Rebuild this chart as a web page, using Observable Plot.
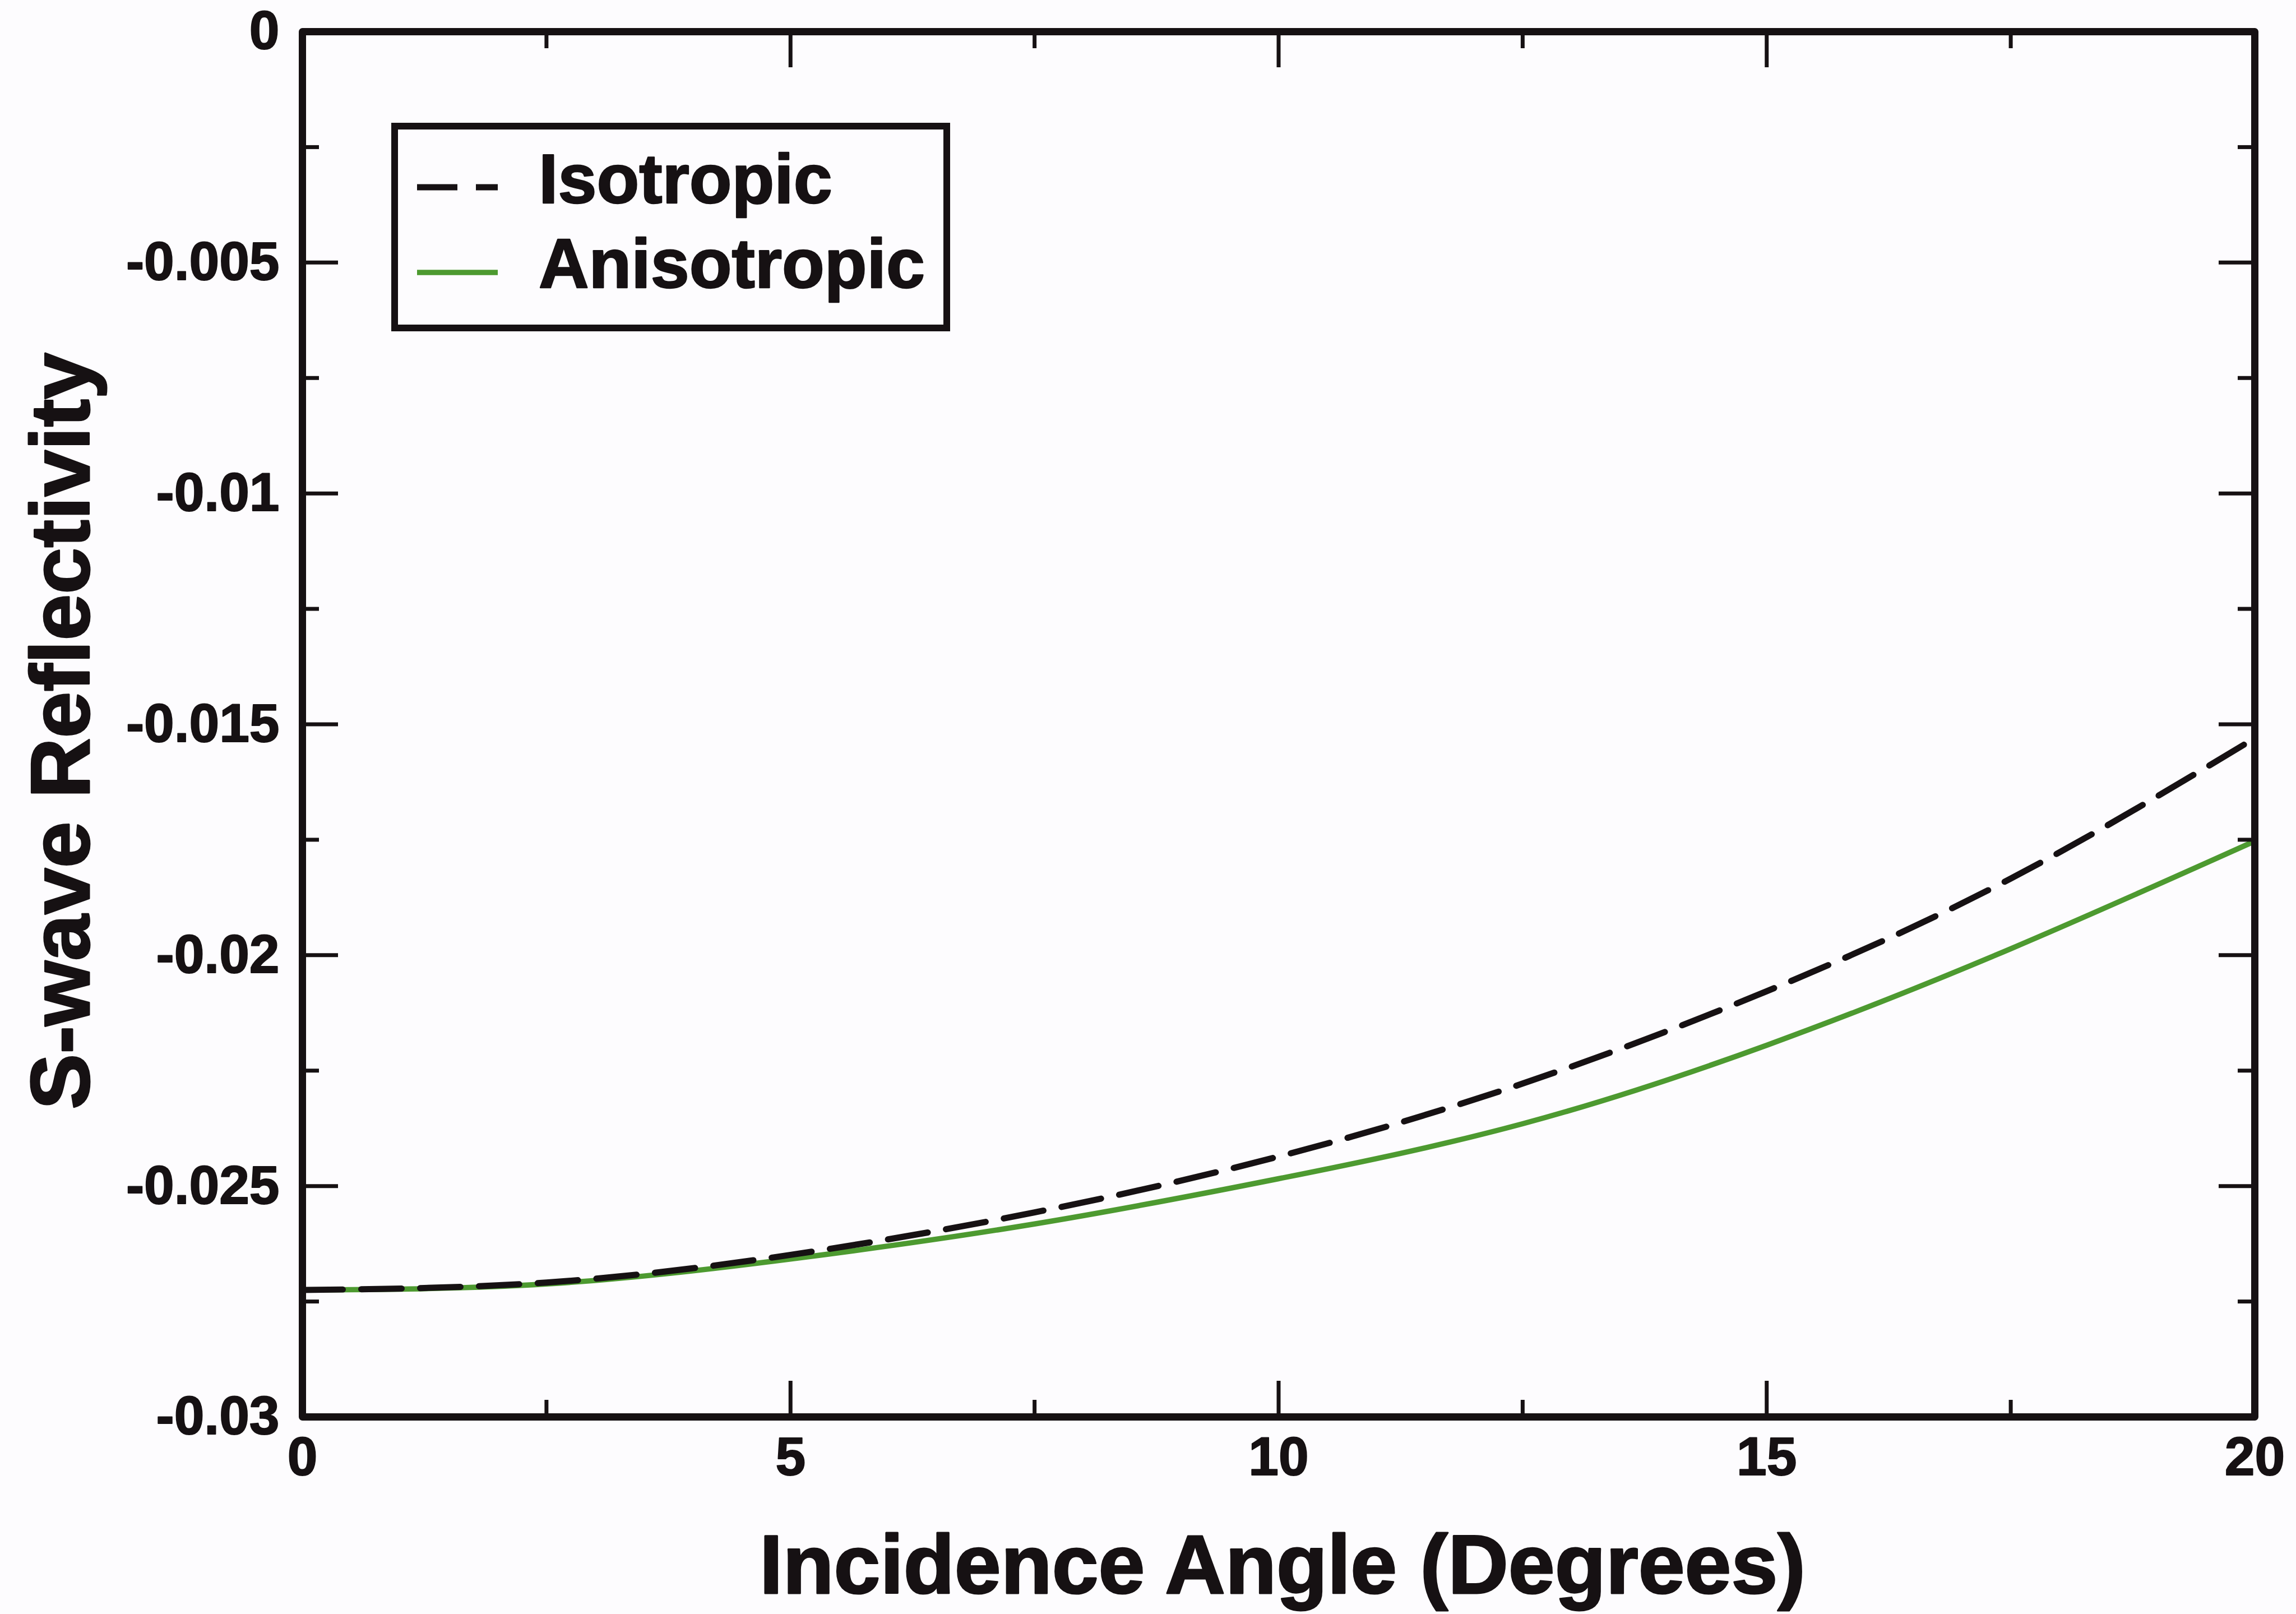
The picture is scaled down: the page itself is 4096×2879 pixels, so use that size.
<!DOCTYPE html>
<html>
<head>
<meta charset="utf-8">
<script src="https://cdn.jsdelivr.net/npm/d3@7"></script>
<script src="https://cdn.jsdelivr.net/npm/@observablehq/plot@0.6"></script>
<style>
  html, body { margin: 0; padding: 0; background: #fdfcfe; }
  #chart svg { display: block; }
</style>
</head>
<body>
<div id="chart"></div>
<script>
// Incidence angle (degrees) and S-wave reflectivity for both media
const angles = [0, 2.5, 5, 7.5, 10, 12.5, 15, 17.5, 20];
const isotropic = [-0.02725, -0.02709, -0.02649, -0.02557, -0.02436, -0.02278, -0.02078, -0.01834, -0.01530];
const anisotropic = [-0.02725, -0.02712, -0.02658, -0.02582, -0.02484, -0.02365, -0.02195, -0.01986, -0.01753];
const seriesNames = ["Isotropic", "Anisotropic"];

// Axis ticks and titles
const xTicks = [0, 5, 10, 15, 20];
const xMinorTicks = [2.5, 7.5, 12.5, 17.5];
const yTicks = [0, -0.005, -0.01, -0.015, -0.02, -0.025, -0.03];
const yMinorTicks = [-0.0025, -0.0075, -0.0125, -0.0175, -0.0225, -0.0275];
const xTitle = "Incidence Angle (Degrees)";
const yTitle = "S-wave Reflectivity";

const W = 4096, H = 2879;
const mL = 539, mR = 74, mT = 56, mB = 352;
const frameW = W - mL - mR, frameH = H - mT - mB;
const ink = "#161113";
const green = "#4d9a30";
const font = "'Liberation Sans', Arial, Helvetica, sans-serif";
const dash = "72,33";
const isoWidth = 11, anisoWidth = 9.5;

// heavier lettering: fill plus a thin outline of the same colour
const heavy = w => ({stroke: ink, strokeWidth: w, strokeLinejoin: "round"});

const rows = [];
angles.forEach((a, i) => {
  rows.push({angle: a, value: isotropic[i], series: seriesNames[0]});
  rows.push({angle: a, value: anisotropic[i], series: seriesNames[1]});
});

const majorLen = 64, minorLen = 30, tickW = 7;

const chart = Plot.plot({
  width: W,
  height: H,
  marginLeft: mL,
  marginRight: mR,
  marginTop: mT,
  marginBottom: mB,
  style: {background: "transparent", fontFamily: font},
  x: {domain: [0, 20]},
  y: {domain: [-0.03, 0]},
  marks: [
    // curves
    Plot.line(rows.filter(d => d.series === seriesNames[1]), {
      x: "angle", y: "value", curve: "natural",
      stroke: green, strokeWidth: anisoWidth
    }),
    Plot.line(rows.filter(d => d.series === seriesNames[0]), {
      x: "angle", y: "value", curve: "natural",
      stroke: ink, strokeWidth: isoWidth, strokeDasharray: dash
    }),
    // inward ticks on all four sides
    Plot.tickX(xTicks, {x: d => d, insetTop: frameH - majorLen, stroke: ink, strokeWidth: tickW}),
    Plot.tickX(xTicks, {x: d => d, insetBottom: frameH - majorLen, stroke: ink, strokeWidth: tickW}),
    Plot.tickX(xMinorTicks, {x: d => d, insetTop: frameH - minorLen, stroke: ink, strokeWidth: tickW}),
    Plot.tickX(xMinorTicks, {x: d => d, insetBottom: frameH - minorLen, stroke: ink, strokeWidth: tickW}),
    Plot.tickY(yTicks, {y: d => d, insetRight: frameW - majorLen, stroke: ink, strokeWidth: tickW}),
    Plot.tickY(yTicks, {y: d => d, insetLeft: frameW - majorLen, stroke: ink, strokeWidth: tickW}),
    Plot.tickY(yMinorTicks, {y: d => d, insetRight: frameW - minorLen, stroke: ink, strokeWidth: tickW}),
    Plot.tickY(yMinorTicks, {y: d => d, insetLeft: frameW - minorLen, stroke: ink, strokeWidth: tickW}),
    // tick labels
    Plot.axisX(xTicks, {
      anchor: "bottom", tickSize: 0, tickPadding: 35, label: null,
      fontSize: 96.5, fontWeight: "bold", fontFamily: font, fill: ink,
      tickFormat: d => String(d)
    }),
    Plot.axisY(yTicks, {
      anchor: "left", tickSize: 0, tickPadding: 41, label: null,
      fontSize: 96.5, fontWeight: "bold", fontFamily: font, fill: ink,
      tickFormat: d => String(d)
    }),
    // axis titles
    Plot.text([xTitle], {
      text: d => d, frameAnchor: "bottom", dx: 7, dy: 314, lineAnchor: "bottom",
      fontSize: 149, fontWeight: "bold", fontFamily: font, fill: ink, ...heavy(3)
    }),
    Plot.text([yTitle], {
      text: d => d, frameAnchor: "left", dx: 158 - mL, dy: 12, rotate: -90,
      textAnchor: "middle", lineAnchor: "bottom",
      fontSize: 149, fontWeight: "bold", fontFamily: font, fill: ink, ...heavy(3)
    }),
    Plot.frame({stroke: ink, strokeWidth: 13, strokeLinejoin: "round"})
  ]
});

document.getElementById("chart").appendChild(chart);

const svg = d3.select(chart.tagName.toLowerCase() === "svg" ? chart : chart.querySelector("svg"));

// slightly heavier tick labels
svg.selectAll("g[aria-label='x-axis tick label'] text, g[aria-label='y-axis tick label'] text")
  .attr("stroke", ink).attr("stroke-width", 2).attr("stroke-linejoin", "round");

// Boxed legend in the upper-left corner of the plot area
const legend = svg.append("g")
  .attr("font-family", font)
  .attr("font-weight", "bold")
  .attr("text-anchor", "start");
legend.append("rect")
  .attr("x", 704).attr("y", 225).attr("width", 985).attr("height", 360)
  .attr("fill", "#fdfcfe").attr("stroke", ink).attr("stroke-width", 12);
const legendItems = [
  {name: seriesNames[0], stroke: ink, width: isoWidth, dash: dash, lineY: 334, textY: 362},
  {name: seriesNames[1], stroke: green, width: anisoWidth, dash: null, lineY: 486, textY: 513}
];
legendItems.forEach(it => {
  legend.append("line")
    .attr("x1", 744).attr("x2", 888).attr("y1", it.lineY).attr("y2", it.lineY)
    .attr("stroke", it.stroke).attr("stroke-width", it.width)
    .attr("stroke-dasharray", it.dash);
  legend.append("text")
    .attr("x", 961).attr("y", it.textY)
    .attr("font-size", 124).attr("fill", ink)
    .attr("stroke", ink).attr("stroke-width", 2.5).attr("stroke-linejoin", "round")
    .attr("text-anchor", "start")
    .text(it.name);
});
</script>
</body>
</html>
